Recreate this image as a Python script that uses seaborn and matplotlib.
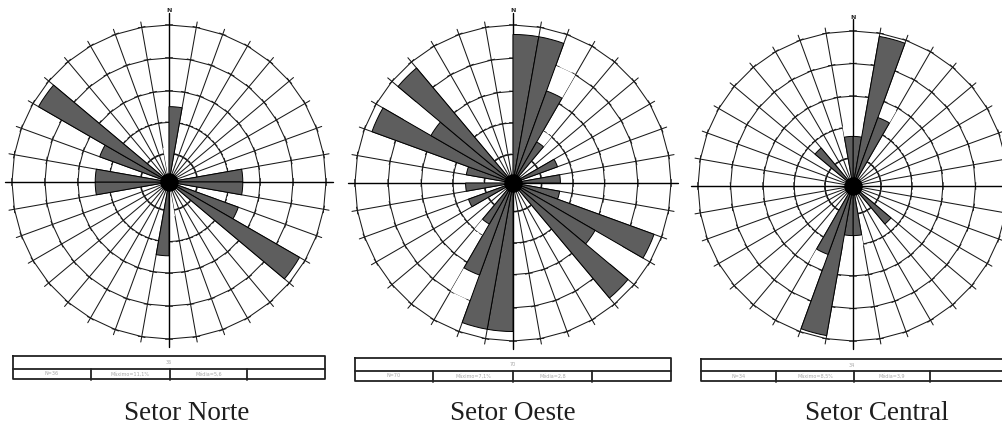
import numpy as np
import matplotlib
matplotlib.use("Agg")
import matplotlib.pyplot as plt
import seaborn as sns

# Rosetas de frequencia (classes de 10 graus, azimute a partir do Norte)
setores = ["Setor Norte", "Setor Oeste", "Setor Central"]
azimutes = list(range(0, 360, 10))

norte = [0.48, 0, 0, 0, 0, 0, 0, 0, 0.47, 0.47, 0, 0.47,
         0.96, 0, 0, 0, 0, 0, 0.47, 0, 0, 0, 0, 0,
         0, 0, 0.47, 0.47, 0, 0.47, 0.96, 0, 0, 0, 0, 0]
oeste = [0.94, 0.94, 0.62, 0.30, 0, 0, 0.30, 0, 0.30, 0, 0.30, 0.95,
         0.60, 0.95, 0, 0, 0, 0, 0.94, 0.94, 0.62, 0.30, 0, 0,
         0.30, 0, 0.30, 0, 0.30, 0.95, 0.60, 0.95, 0, 0, 0, 0]
central = [0.32, 0.98, 0.47, 0, 0, 0, 0, 0, 0, 0, 0, 0,
           0, 0.32, 0, 0, 0, 0.32, 0.32, 0.98, 0.47, 0, 0, 0,
           0, 0, 0, 0, 0, 0, 0, 0.32, 0, 0, 0, 0.32]

# trechos em branco que apagam a malha atras de algumas barras
norte_fundo = [0, 0, 0, 0, 0, 0, 0, 0, 0, 0, 0, 0,
               0, 0, 0, 0, 0, 0.22, 0, 0, 0, 0, 0, 0,
               0, 0, 0, 0, 0, 0, 0, 0, 0, 0, 0, 0.22]
oeste_fundo = [0, 0, 0.79, 0.38, 0, 0, 0, 0, 0, 0, 0, 0,
               0.80, 0, 0, 0, 0, 0, 0, 0, 0.79, 0.38, 0, 0,
               0, 0, 0, 0, 0, 0, 0.80, 0, 0, 0, 0, 0]
central_fundo = [0.39, 0, 0.56, 0, 0, 0, 0, 0, 0, 0, 0, 0,
                 0, 0, 0, 0, 0, 0.39, 0.39, 0, 0.56, 0, 0, 0,
                 0, 0, 0, 0, 0, 0, 0, 0, 0, 0, 0, 0.39]

aneis = [0.18, 0.38, 0.58, 0.79, 1.0]

tab_topo = ["36", "70", "34"]
tab_base = [["N=36", "Máximo=11,1%", "Média=5,6"],
            ["N=70", "Máximo=7,1%", "Média=2,8"],
            ["N=34", "Máximo=8,5%", "Média=3,9"]]

sns.set_theme(style="white")
plt.rcParams["font.family"] = ["DejaVu Sans"]

W, H = 1003, 424
fig = plt.figure(figsize=(W / 100, H / 100), dpi=100)
fig.patch.set_facecolor("white")

centros = [(169, 182, 157), (513, 183, 158), (853, 186, 155)]
LIM = 1.12
cinza = "#5e5e5e"
traco = "#1a1a1a"


def malha(ax):
    # linhas radiais a cada 10 graus
    for a in azimutes:
        t = np.deg2rad(a)
        ax.plot([t, t], [0, 1.035], color=traco, lw=0.75, zorder=1)
    # aneis como poligonos com pequenos prolongamentos (cruzetas)
    ext = 0.022
    for rr in aneis:
        for a in azimutes:
            t1, t2 = np.deg2rad(a), np.deg2rad(a + 10)
            p1 = np.array([rr * np.cos(t1), rr * np.sin(t1)])
            p2 = np.array([rr * np.cos(t2), rr * np.sin(t2)])
            d = (p2 - p1) / np.linalg.norm(p2 - p1)
            q1, q2 = p1 - ext * d, p2 + ext * d
            ax.plot([np.arctan2(q1[1], q1[0]), np.arctan2(q2[1], q2[0])],
                    [np.hypot(*q1), np.hypot(*q2)],
                    color=traco, lw=0.75, zorder=1)
    # eixos N-S e E-W
    ax.plot([0, np.pi], [1.075, 1.05], color="black", lw=1.0, zorder=2.5)
    ax.plot([np.pi / 2, 3 * np.pi / 2], [1.045, 1.045], color="black", lw=1.0, zorder=2.5)


for i, (vals, fundo) in enumerate([(norte, norte_fundo), (oeste, oeste_fundo),
                                    (central, central_fundo)]):
    cx, cy, R = centros[i]
    h = LIM * R
    ax = fig.add_axes([(cx - h) / W, (H - cy - h) / H, 2 * h / W, 2 * h / H],
                      projection="polar")
    ax.set_theta_zero_location("N")
    ax.set_theta_direction(-1)
    ax.set_facecolor("white")

    theta = np.deg2rad(np.array(azimutes) + 5)
    malha(ax)
    sns.barplot(x=theta, y=fundo, orient="x", native_scale=True, width=1,
                color="white", saturation=1, linewidth=0, errorbar=None,
                ax=ax, zorder=2)
    sns.barplot(x=theta, y=vals, orient="x", native_scale=True, width=1,
                color=cinza, saturation=1, edgecolor="black", linewidth=0.7,
                errorbar=None, ax=ax, zorder=3)
    ax.scatter([0], [0], s=150, color="black", zorder=6)
    ax.text(0, 1.09, "N", fontsize=4.5, fontweight="bold", ha="center",
            va="center", zorder=6)

    ax.set_xlim(0, 2 * np.pi)
    ax.set_ylim(0, LIM)
    ax.grid(False)
    ax.set_xticks([])
    ax.set_yticks([])
    ax.set_xlabel("")
    ax.set_ylabel("")
    ax.spines["polar"].set_visible(False)

# tabelas de resumo e titulos dos setores
ov = fig.add_axes([0, 0, 1, 1], facecolor="none")
ov.set_xlim(0, W)
ov.set_ylim(H, 0)
ov.axis("off")

caixas = [(13, 356, 325, 379, [91, 170, 247]),
          (355, 358, 671, 381, [433, 513, 592]),
          (701, 359, 1006, 381, [776, 854, 930])]
titulo_x = [187, 513, 877]

for i, (x0, y0, x1, y1, divs) in enumerate(caixas):
    ym = y0 + (y1 - y0) * 0.56
    ov.plot([x0, x1, x1, x0, x0], [y0, y0, y1, y1, y0], color="#222222", lw=1.3)
    ov.plot([x0, x1], [ym, ym], color="#222222", lw=1.3)
    for xd in divs:
        ov.plot([xd, xd], [ym, y1 + 1], color="#222222", lw=1.3)
    ov.text((x0 + min(x1, W)) / 2, (y0 + ym) / 2, tab_topo[i], fontsize=3.5,
            color="#a8a8a8", ha="center", va="center")
    bordas = [x0] + divs
    for j, txt in enumerate(tab_base[i]):
        ov.text((bordas[j] + bordas[j + 1]) / 2, (ym + y1) / 2, txt,
                fontsize=3.5, color="#a8a8a8", ha="center", va="center")
    ov.text(titulo_x[i], 413, setores[i], fontsize=19.5, color="#1e1e1e",
            ha="center", va="center", family=["Liberation Serif", "DejaVu Serif"])

fig.savefig("out.png", dpi=100, facecolor="white")
